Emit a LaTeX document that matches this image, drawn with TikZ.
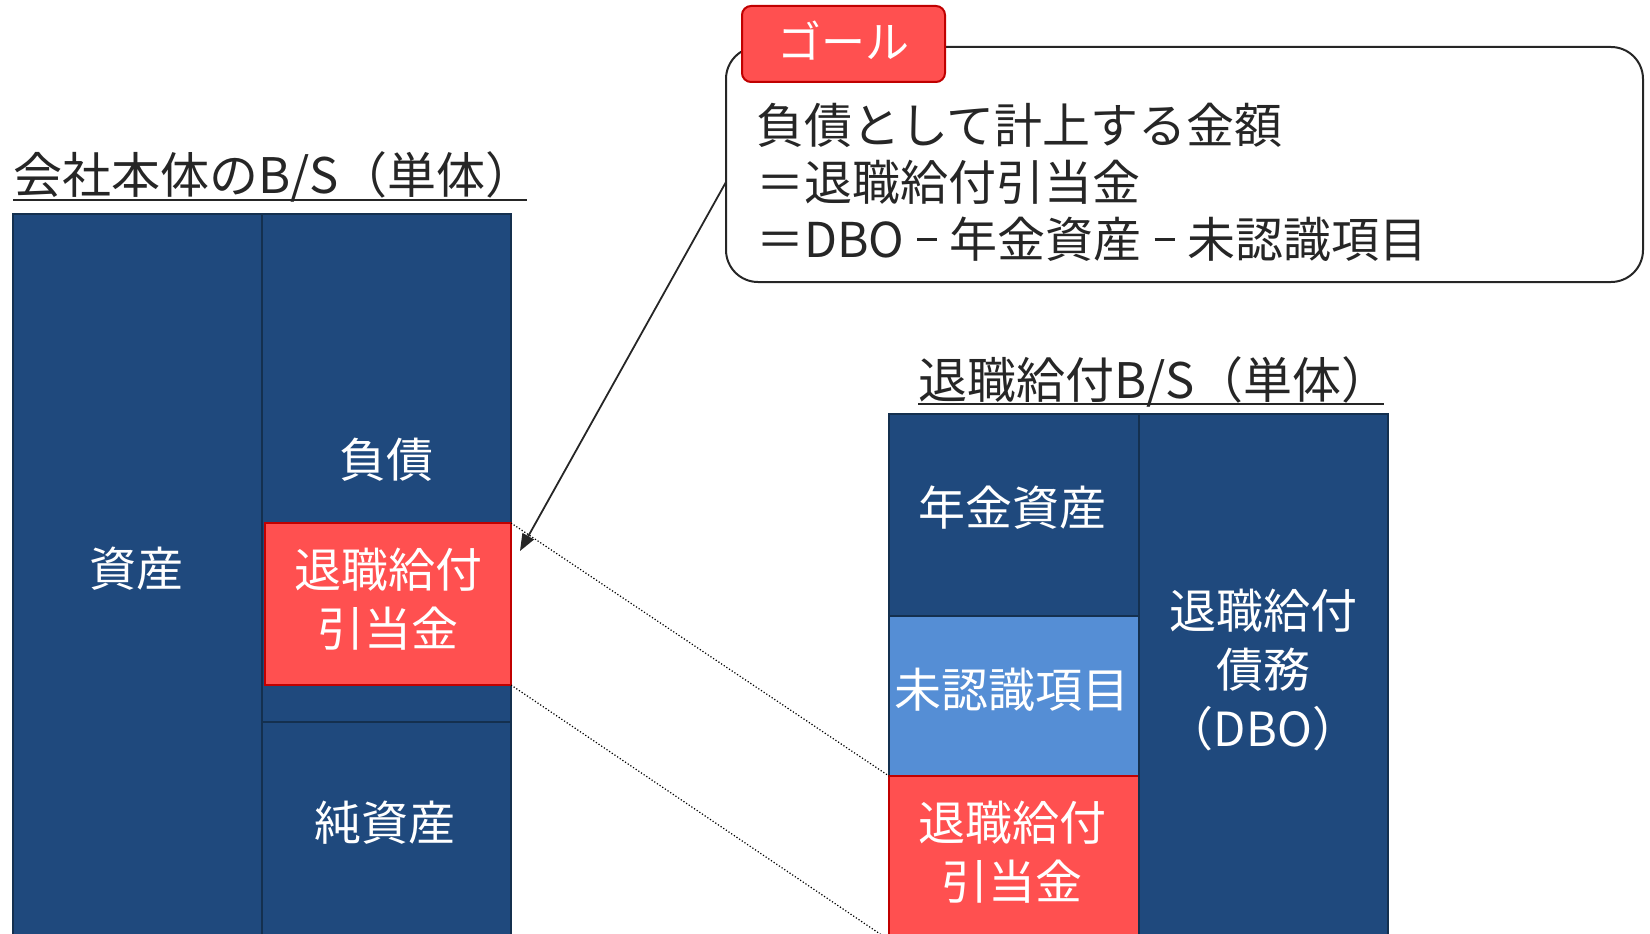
\documentclass[tikz,border=0pt]{standalone}
\usepackage{fontspec}
\setmainfont{Noto Sans CJK JP}
\usetikzlibrary{arrows.meta}
\definecolor{navy}{HTML}{1F497D}
\definecolor{navyline}{HTML}{14304F}
\definecolor{redfill}{HTML}{FF5050}
\definecolor{redline}{HTML}{C00000}
\definecolor{lightblue}{HTML}{558ED5}
\definecolor{ink}{HTML}{262626}
\newcommand{\shortminus}{\makebox[0.95em][c]{\rule[0.34em]{0.42em}{0.065em}}}
\tikzset{
  cell/.style={anchor=north west, inner sep=0pt, outer sep=0pt, line width=1.5pt},
  navybox/.style={cell, draw=navyline, fill=navy},
  redbox/.style={cell, draw=redline, fill=redfill, line width=2pt},
  bluebox/.style={cell, draw=navyline, fill=lightblue},
  lbl/.style={text=white, align=center, inner sep=0pt, font=\fontsize{47}{59}\selectfont},
  ttl/.style={text=ink, inner sep=0pt, anchor=base west, font=\fontsize{49}{56}\selectfont},
  uline/.style={draw=ink, line width=2pt},
}
\begin{document}
\begin{tikzpicture}[x=1pt,y=-1pt]
\useasboundingbox (0,0) rectangle (1650,934);
\clip (0,0) rectangle (1650,934);

% left B/S
\node[ttl] (ltitle) at (13,193) {会社本体のB/S（単体）};
\coordinate (lul) at ([yshift=-7pt]ltitle.base west);
\coordinate (lur) at ([yshift=-7pt]ltitle.base west -| 527,0);
\draw[uline] (lul) -- (lur);
\node[navybox, minimum width=249pt, minimum height=740pt] (asset) at (13,214) {};
\node[navybox, minimum width=249pt, minimum height=508pt] (liab) at (262,214) {};
\node[navybox, minimum width=249pt, minimum height=230pt] (equity) at (262,722) {};
\node[redbox, minimum width=246pt, minimum height=162pt] (lred) at (265,523) {};
\node[lbl] (assettxt) at (136,569) {資産};
\node[lbl] (liabtxt) at (386,460) {負債};
\node[lbl] (lredtxt) at (388,599) {退職給付\\引当金};
\node[lbl] (equitytxt) at (385,823) {純資産};

% right B/S
\node[ttl] (rtitle) at (918,398) {退職給付B/S（単体）};
\coordinate (rul) at ([yshift=-6pt]rtitle.base west);
\coordinate (rur) at ([yshift=-6pt]rtitle.base west -| 1384,0);
\draw[uline] (rul) -- (rur);
\node[navybox, minimum width=250pt, minimum height=202pt] (pa) at (889,414) {};
\node[bluebox, minimum width=250pt, minimum height=160pt] (ur) at (889,616) {};
\node[redbox, minimum width=250pt, minimum height=164pt] (rred) at (889,776) {};
\node[navybox, minimum width=249pt, minimum height=540pt] (dbo) at (1139,414) {};
\node[lbl] (patxt) at (1012,508) {年金資産};
\node[lbl] (urtxt) at (1012,690) {未認識項目};
\node[lbl] (rredtxt) at (1012,852) {退職給付\\引当金};
\node[lbl] (dbotxt) at (1263,670) {退職給付\\債務\\（DBO）};

% callout
\node[cell, draw=ink, fill=white, line width=2pt, rounded corners=32pt,
      minimum width=917pt, minimum height=235pt] (call) at (726,47) {};
\node[anchor=west, align=left, text=ink, inner sep=0pt,
      font=\fontsize{48}{57}\selectfont] (calltxt) at (756,182)
  {負債として計上する金額\\＝退職給付引当金\\＝DBO\shortminus 年金資産\shortminus 未認識項目};
\node[cell, draw=redline, fill=redfill, line width=2pt, rounded corners=9pt,
      minimum width=203pt, minimum height=76pt] (goal) at (742,6) {};
\node[text=white, inner sep=0pt, font=\fontsize{44}{50}\selectfont] (goaltxt)
  at ([yshift=3pt]goal.center) {ゴール};

% connectors
\coordinate (astart) at (726,182);
\draw[ink, line width=1.8pt, -{Triangle[length=17pt,width=13pt]}]
  (astart) -- ([xshift=9pt,yshift=-28pt]lred.north east);
\draw[black, dotted, line width=1.2pt] (lred.north east) -- (rred.north west);
\draw[black, dotted, line width=1.2pt] (lred.south east) -- (rred.south west);
\end{tikzpicture}
\end{document}
